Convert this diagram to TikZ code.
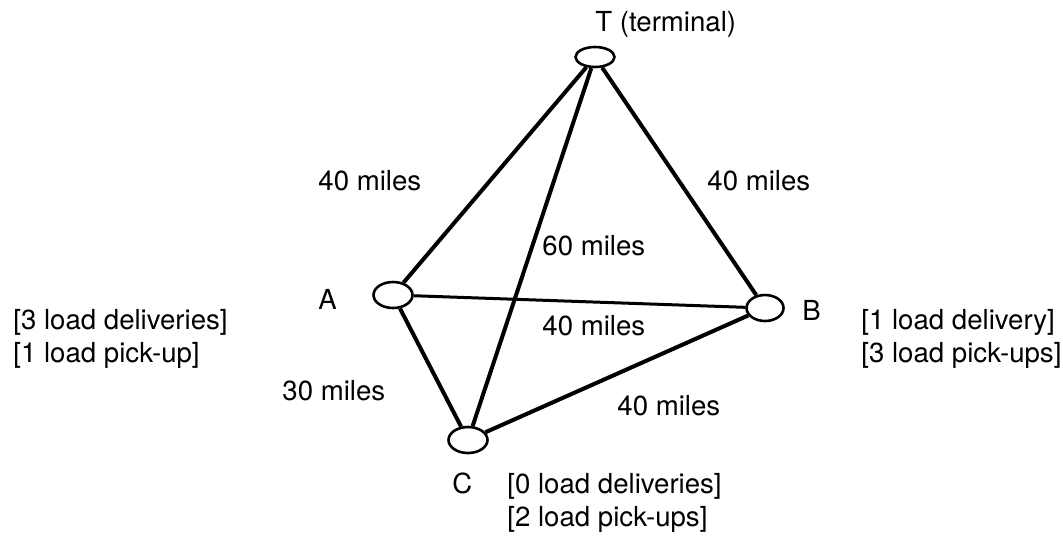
\documentclass[tikz,border=0pt]{standalone}
\usepackage{fontspec}
\setmainfont{TeX Gyre Heros}
\usepackage{tikz}
\usetikzlibrary{shapes.geometric}

\begin{document}
\begin{tikzpicture}[x=0.5pt, y=-0.5pt,
    site/.style={ellipse, draw, line width=1.3pt, minimum width=19.5pt, minimum height=13pt, inner sep=0pt},
    road/.style={line width=2pt},
    lbl/.style={anchor=base west, inner sep=0pt, font=\fontsize{13.8}{16}\selectfont},
    ]
\useasboundingbox (0,0) rectangle (1063,537);

% sites
\node[site, minimum height=10pt] (T) at (595,57) {};
\node[site] (A) at (393,295) {};
\node[site, minimum width=18.5pt] (B) at (765,308) {};
\node[site] (C) at (468,440) {};

% roads
\draw[road] (T) -- (A);
\draw[road] (T) -- (B);
\draw[road] (T) -- (C);
\draw[road, line width=1.5pt] (A) -- (B);
\draw[road] (A) -- (C);
\draw[road] (B) -- (C);

% site names
\node[lbl] (Tname) at (595,31) {T (terminal)};
\node[lbl] (Aname) at (318,309) {A};
\node[lbl] (Bname) at (802,320) {B};
\node[lbl] (Cname) at (452,493) {C};

% distances
\node[lbl] (dTA) at (318,190) {40 miles};
\node[lbl] (dTB) at (707,190) {40 miles};
\node[lbl] (dTC) at (542,255) {60 miles};
\node[lbl] (dAB) at (542,335) {40 miles};
\node[lbl] (dAC) at (282,400) {30 miles};
\node[lbl] (dBC) at (617,415) {40 miles};

% loads
\node[lbl] (Adel) at (13,329) {[3 load deliveries]};
\node[lbl] (Apick) at (13,362) {[1 load pick-up]};
\node[lbl] (Bdel) at (861,329) {[1 load delivery]};
\node[lbl] (Bpick) at (861,362) {[3 load pick-ups]};
\node[lbl] (Cdel) at (507,493) {[0 load deliveries]};
\node[lbl] (Cpick) at (507,526) {[2 load pick-ups]};
\end{tikzpicture}
\end{document}
